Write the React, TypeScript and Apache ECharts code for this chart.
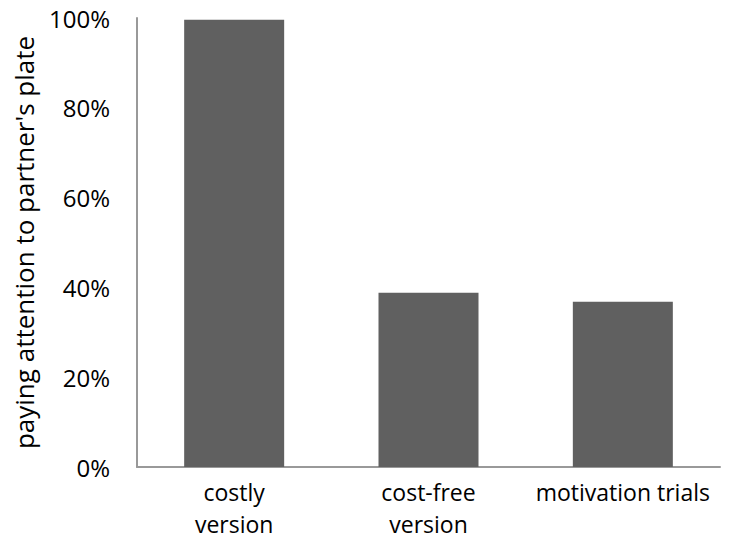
import React, { useEffect, useRef } from "react";
import * as echarts from "echarts";

const categories = ["costly\nversion", "cost-free\nversion", "motivation trials"];
const values = [99.6, 38.8, 36.8];
const yTicks = { min: 0, max: 100, interval: 20 };

export default function App() {
  const ref = useRef<HTMLDivElement>(null);
  useEffect(() => {
    const chart = echarts.init(ref.current!, null, { renderer: "svg" });
    const font = "'Open Sans', sans-serif";
    chart.setOption({
      animation: false,
      backgroundColor: "#ffffff",
      grid: { left: 137, right: 14, top: 18, bottom: 76, containLabel: false },
      xAxis: {
        type: "category",
        data: categories,
        axisLine: { show: true, lineStyle: { color: "#999999", width: 2 } },
        axisTick: { show: false },
        axisLabel: {
          color: "#000000",
          fontSize: 23,
          fontFamily: font,
          lineHeight: 32,
          margin: 9,
          interval: 0,
        },
      },
      yAxis: {
        type: "value",
        min: yTicks.min,
        max: yTicks.max,
        interval: yTicks.interval,
        name: "paying attention to partner's plate",
        nameLocation: "middle",
        nameGap: 100,
        nameTextStyle: { color: "#000000", fontSize: 26, fontFamily: font },
        axisLine: { show: true, lineStyle: { color: "#999999", width: 2 } },
        axisTick: { show: false },
        splitLine: { show: false },
        axisLabel: {
          color: "#000000",
          fontSize: 24,
          fontFamily: font,
          margin: 27,
          formatter: "{value}%",
        },
      },
      series: [
        {
          type: "bar",
          data: values,
          barWidth: 100,
          itemStyle: { color: "#606060" },
        },
      ],
    });
    return () => chart.dispose();
  }, []);
  return (
    <div
      ref={ref}
      style={{ position: "absolute", left: 0, top: 0, width: 734, height: 543 }}
    />
  );
}
